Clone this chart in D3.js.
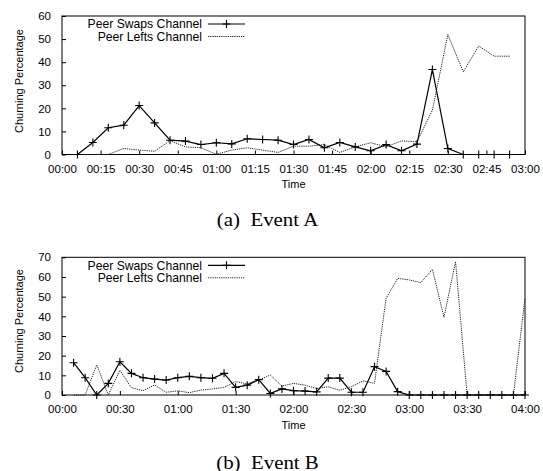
<!DOCTYPE html>
<html>
<head>
<meta charset="utf-8">
<script src="https://cdn.jsdelivr.net/npm/d3@7"></script>
<style>
  html, body { margin: 0; padding: 0; background: #fff; }
  svg { display: block; }
  text { font-family: "Liberation Sans", Arial, sans-serif; fill: #000; }
</style>
</head>
<body>
<svg id="chart" width="543" height="471"></svg>
<script>
// ---------- Data (minutes since start) ----------
const timesA = [6,12,18,24,30,36,42,48,54,60,66,72,78,84,90,96,102,108,114,120,126,132,138,144,150,156,162,168,174];
const swapsA = [0,5.2,11.6,12.7,21.2,13.7,6.2,5.8,4.3,5.1,4.6,6.8,6.5,6.2,4.3,6.5,2.9,5.2,3.3,1.6,4.3,1.6,4.5,36.8,2.6,0,0,0,0];
const leftsA = [0,0,0,2.6,1.9,1.4,6.0,3.3,2.9,0.1,1.9,2.9,1.9,0.9,3.6,3.6,4.3,0.9,3.3,5.1,3.3,5.9,5.5,19.2,52.0,35.8,47.0,42.6,42.6];

const timesB = [6,12,18,24,30,36,42,48,54,60,66,72,78,84,90,96,102,108,114,120,126,132,138,144,150,156,162,168,174,180,186,192,198,204,210,216,222,228,234,240];
const swapsB = [16.4,8.8,0,5.9,16.9,11.0,8.8,8.1,7.6,8.8,9.5,8.8,8.5,11.0,3.9,5.0,7.8,0.8,3.1,2.2,2.0,1.6,8.6,8.6,1.4,1.4,14.4,12.0,1.7,0,0,0,0,0,0,0,0,0,0,0];
const leftsB = [0,0,15.3,0,12.6,3.7,2.2,5.1,1.4,2.1,1.2,2.5,3.1,3.9,6.8,5.7,7.6,10.2,4.5,5.9,5.0,3.3,4.2,2.4,4.2,7.2,5.9,49.2,59.3,58.5,57.1,63.9,39.5,67.8,0,0,0,0,0,49.2];

const xTicksA = [0,15,30,45,60,75,90,105,120,135,150,165,180];
const xTicksB = [0,30,60,90,120,150,180,210,240];
const yTicksA = [0,10,20,30,40,50,60];
const yTicksB = [0,10,20,30,40,50,60,70];

const seriesNames = ["Peer Swaps Channel", "Peer Lefts Channel"];
const yTitle = "Churning Percentage";
const xTitle = "Time";
const captions = ["(a)  Event A", "(b)  Event B"];

// ---------- Drawing ----------
const svg = d3.select("#chart");
const fmt = m => String(Math.floor(m / 60)).padStart(2, "0") + ":" + String(m % 60).padStart(2, "0");

function panel(cfg) {
  const x = d3.scaleLinear().domain(cfg.xDomain).range([62, 525]);
  const y = d3.scaleLinear().domain(cfg.yDomain).range([cfg.bottom, cfg.top]);
  const g = svg.append("g");

  // axes
  const xa = g.append("g").attr("transform", `translate(0,${cfg.bottom})`)
    .call(d3.axisBottom(x).tickValues(cfg.xTicks).tickFormat(fmt).tickSizeInner(-4).tickSizeOuter(0).tickPadding(10));
  const ya = g.append("g").attr("transform", `translate(62,0)`)
    .call(d3.axisLeft(y).tickValues(cfg.yTicks).tickSizeInner(-4).tickSizeOuter(0).tickPadding(11));
  [xa, ya].forEach(a => {
    a.select(".domain").remove();
    a.selectAll("line").attr("stroke", "#000");
    a.selectAll("text").attr("font-size", 11.5).attr("font-family", "Liberation Sans, Arial, sans-serif");
  });

  // frame
  g.append("rect").attr("x", 62).attr("y", cfg.top).attr("width", 463).attr("height", cfg.bottom - cfg.top)
    .attr("fill", "none").attr("stroke", "#000").attr("stroke-width", 1);

  const line = d3.line().x(d => x(d[0])).y(d => y(d[1]));
  const swaps = cfg.times.map((t, i) => [t, cfg.swaps[i]]);
  const lefts = cfg.times.map((t, i) => [t, cfg.lefts[i]]);

  g.append("path").datum(lefts).attr("d", line).attr("fill", "none")
    .attr("stroke", "#222").attr("stroke-width", 1).attr("stroke-dasharray", "1.2,1");
  g.append("path").datum(swaps).attr("d", line).attr("fill", "none")
    .attr("stroke", "#000").attr("stroke-width", 1.2);
  const plus = "M-4,0H4M0,-4V4";
  g.selectAll(".pt").data(swaps).join("path").attr("class", "pt")
    .attr("d", plus).attr("transform", d => `translate(${x(d[0])},${y(d[1])})`)
    .attr("stroke", "#000").attr("stroke-width", 1.1).attr("fill", "none");

  // legend
  const lx = 202, l1 = cfg.top + 8, l2 = cfg.top + 20.5;
  g.append("text").attr("x", lx).attr("y", l1).attr("dy", "0.35em").attr("text-anchor", "end")
    .attr("font-size", 12.2).text(seriesNames[0]);
  g.append("text").attr("x", lx).attr("y", l2).attr("dy", "0.35em").attr("text-anchor", "end")
    .attr("font-size", 12.2).text(seriesNames[1]);
  g.append("line").attr("x1", 208).attr("x2", 245).attr("y1", l1).attr("y2", l1)
    .attr("stroke", "#000").attr("stroke-width", 1.2);
  g.append("path").attr("d", plus).attr("transform", `translate(226.5,${l1})`)
    .attr("stroke", "#000").attr("stroke-width", 1.1);
  g.append("line").attr("x1", 208).attr("x2", 245).attr("y1", l2).attr("y2", l2)
    .attr("stroke", "#222").attr("stroke-width", 1).attr("stroke-dasharray", "1.2,1");

  // titles
  g.append("text").attr("transform", `translate(19,${cfg.yTitleY}) rotate(-90)`)
    .attr("text-anchor", "middle").attr("dy", "0.35em").attr("font-size", 11).text(yTitle);
  g.append("text").attr("x", 293.5).attr("y", cfg.bottom + 33.5).attr("text-anchor", "middle")
    .attr("font-size", 11).text(xTitle);
  g.append("text").attr("transform", `translate(267.5,${cfg.captionY}) scale(1.16,1)`)
    .attr("text-anchor", "middle")
    .style("font-family", "'Liberation Serif', 'Times New Roman', serif").attr("font-size", 18)
    .attr("xml:space", "preserve").style("white-space", "pre").text(cfg.caption);
}

panel({ xDomain: [0, 180], yDomain: [0, 60], top: 16, bottom: 154.5, times: timesA, swaps: swapsA, lefts: leftsA,
        xTicks: xTicksA, yTicks: yTicksA, yTitleY: 81, captionY: 226, caption: captions[0] });
panel({ xDomain: [0, 240], yDomain: [0, 70], top: 257.3, bottom: 395, times: timesB, swaps: swapsB, lefts: leftsB,
        xTicks: xTicksB, yTicks: yTicksB, yTitleY: 321, captionY: 468.5, caption: captions[1] });
</script>
</body>
</html>
